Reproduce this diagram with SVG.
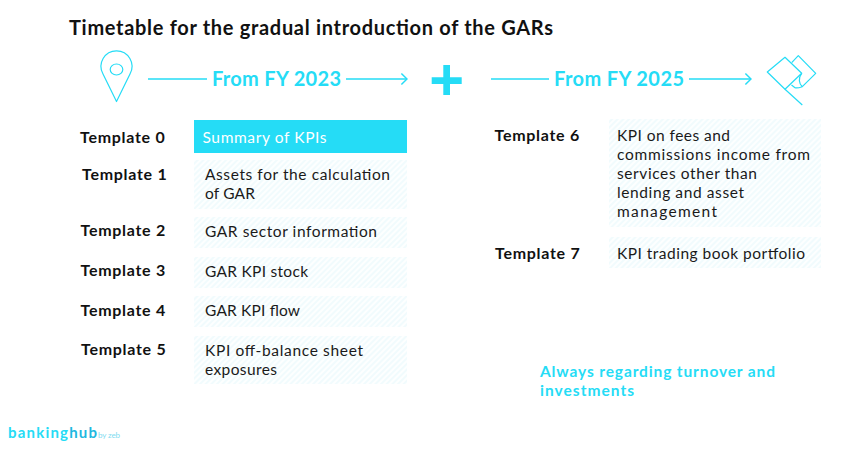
<svg xmlns="http://www.w3.org/2000/svg" width="862" height="454" viewBox="0 0 862 454">
<style>
text{font-family:"Lato","Noto Sans",sans-serif;}
.t{font-size:16px;font-weight:700;fill:#111;letter-spacing:.72px}
.d{font-size:15.5px;fill:#1a1a1a}
.h{font-size:20px;font-weight:700;fill:#25dcf6}
.a{font-size:15.5px;font-weight:700;fill:#25dcf6}
.l{fill:none;stroke:#25dcf6;stroke-width:1.6}
.f{fill:none;stroke:#25dcf6;stroke-width:1.2;stroke-linejoin:round}
.b{fill:url(#hatch)}
</style>
<defs>
<pattern id="hatch" width="4" height="4" patternUnits="userSpaceOnUse" patternTransform="rotate(45)">
<rect width="4" height="4" fill="#fdffff"/><rect width="2" height="4" fill="#f1fbfd"/>
</pattern>
<marker id="arrow" markerWidth="10" markerHeight="14" refX="8.6" refY="7" orient="auto" markerUnits="userSpaceOnUse"><path d="M3 1.5L8.6 7L3 12.500" fill="none" stroke="#25dcf6" stroke-width="1.5"/></marker>
</defs>
<rect width="862" height="454" fill="#fff"/>
<text x="69" y="35" font-size="20" font-weight="700" fill="#111" textLength="484" lengthAdjust="spacing">Timetable for the gradual introduction of the GARs</text>
<g id="connectors">
<path class="l" d="M148 79H207"/>
<path class="l" d="M346 79H407" marker-end="url(#arrow)"/>
<path class="l" d="M491 79H549"/>
<path class="l" d="M689 79H751" marker-end="url(#arrow)"/>
</g>
<g id="pin"><path class="f" d="M116.500 101.500L103 74A15.500 15.500 0 1 1 130 74Z"/><ellipse class="f" cx="116.500" cy="69.500" rx="6.300" ry="5.500"/></g>
<text class="h" x="212" y="86" textLength="129" lengthAdjust="spacing">From FY 2023</text>
<g id="plus"><path d="M431.700 77.300H443.300V65H450V77.300H461.700V84H450V95H443.300V84H431.700Z" fill="#25dcf6"/></g>
<text class="h" x="554" y="86" textLength="130" lengthAdjust="spacing">From FY 2025</text>
<g id="flag"><path class="f" d="M785 57.300L801.700 73.300L785 89.300L767.300 72Z"/><path class="f" d="M785 89.300L802.300 105M791.700 62.700L798.300 55.700L815.700 73.300L802.300 86.700Q797 88.500 795 87.700L791.500 85M801.700 73.300C798 78 799 84 802.300 86.700"/></g>
<g id="template-0"><rect x="194" y="120" width="213" height="33" fill="#25dcf6"/><text class="t" x="80" y="143">Template 0</text><text class="d" x="202.500" y="143" style="fill:#fff" textLength="124" lengthAdjust="spacing">Summary of KPIs</text></g>
<g id="template-1"><rect class="b" x="194" y="160" width="213" height="49"/><text class="t" x="82" y="180">Template 1</text><text class="d" x="205" y="180" textLength="185" lengthAdjust="spacing">Assets for the calculation</text><text class="d" x="205" y="199" textLength="50" lengthAdjust="spacing">of GAR</text></g>
<g id="template-2"><rect class="b" x="194" y="217" width="213" height="31"/><text class="t" x="80.500" y="236">Template 2</text><text class="d" x="205" y="237" textLength="172" lengthAdjust="spacing">GAR sector information</text></g>
<g id="template-3"><rect class="b" x="194" y="257" width="213" height="31"/><text class="t" x="80.500" y="276">Template 3</text><text class="d" x="205" y="277" textLength="103" lengthAdjust="spacing">GAR KPI stock</text></g>
<g id="template-4"><rect class="b" x="194" y="296" width="213" height="31"/><text class="t" x="80.500" y="316">Template 4</text><text class="d" x="205" y="316" textLength="95" lengthAdjust="spacing">GAR KPI flow</text></g>
<g id="template-5"><rect class="b" x="194" y="336" width="213" height="48"/><text class="t" x="81" y="355">Template 5</text><text class="d" x="205" y="356" textLength="158" lengthAdjust="spacing">KPI off-balance sheet</text><text class="d" x="205" y="375" textLength="72" lengthAdjust="spacing">exposures</text></g>
<g id="template-6"><rect class="b" x="609" y="119" width="212" height="108"/><text class="t" x="494.500" y="141">Template 6</text><text class="d" x="617" y="141" textLength="113" lengthAdjust="spacing">KPI on fees and</text><text class="d" x="617" y="160" textLength="193" lengthAdjust="spacing">commissions income from</text><text class="d" x="617" y="179" textLength="140" lengthAdjust="spacing">services other than</text><text class="d" x="617" y="198" textLength="127" lengthAdjust="spacing">lending and asset</text><text class="d" x="617" y="217" textLength="100" lengthAdjust="spacing">management</text></g>
<g id="template-7"><rect class="b" x="609" y="237" width="212" height="31"/><text class="t" x="495" y="259">Template 7</text><text class="d" x="617" y="259" textLength="188" lengthAdjust="spacing">KPI trading book portfolio</text></g>
<text class="a" x="540" y="377" textLength="235" lengthAdjust="spacing">Always regarding turnover and</text>
<text class="a" x="540" y="396" textLength="94" lengthAdjust="spacing">investments</text>
<g id="logo"><text x="8" y="438" font-size="15" font-weight="700" fill="#25dcf6" textLength="89" lengthAdjust="spacing">banking<tspan fill="#1fb8e0">hub</tspan></text><text x="98" y="438" font-size="8" fill="#7fdcf0" textLength="22" lengthAdjust="spacing">by zeb</text></g>
</svg>
